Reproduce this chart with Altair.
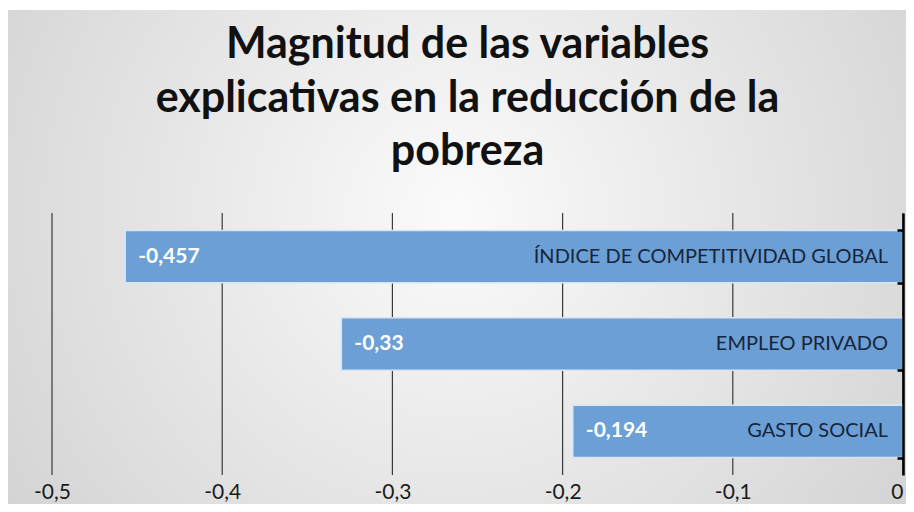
import altair as alt
import pandas as pd

categories = ["ÍNDICE DE COMPETITIVIDAD GLOBAL", "EMPLEO PRIVADO", "GASTO SOCIAL"]
values = [-0.457, -0.33, -0.194]
value_labels = ["-0,457", "-0,33", "-0,194"]
x_ticks = [-0.5, -0.4, -0.3, -0.2, -0.1, 0]
title_lines = ["Magnitud de las variables", "explicativas en la reducción de la", "pobreza"]

W, H = 851, 262
PL, PT, PR, PB = 44, 205, 3, 29

df = pd.DataFrame({"cat": categories, "val": values, "lab": value_labels, "zero": [0.0] * 3})
grid_df = pd.DataFrame({"t": x_ticks})
bg_df = pd.DataFrame({"a": [0]})

xscale = alt.Scale(domain=[-0.5, 0], nice=False, zero=False)
yscale = alt.Scale(paddingInner=0.4, paddingOuter=0.2)

label_expr = "datum.value == 0 ? '0' : '-0,' + round(abs(datum.value) * 10)"
xaxis = alt.Axis(values=x_ticks, labelExpr=label_expr, grid=False, domain=False, ticks=False,
                 labelFontSize=21, labelColor="#1a1a1a", labelPadding=6, labelBaseline="top",
                 labelFont="Lato", labelFlush=False, labelOverlap=False, title=None, zindex=1,
                 labelAlign={"condition": {"test": "datum.value == 0", "value": "right"}, "value": "center"})

bg = alt.Chart(bg_df).mark_rect(
    color=alt.Gradient(
        gradient="radial",
        stops=[alt.GradientStop(color="#fbfbfb", offset=0), alt.GradientStop(color="#cacaca", offset=1)],
        x1=0.5, y1=0.45, r1=0, x2=0.5, y2=0.45, r2=0.75,
    )
).encode(
    x=alt.value(-PL), x2=alt.value(W + PR), y=alt.value(-PT + 2), y2=alt.value(H + PB)
)

grid = alt.Chart(grid_df).mark_rule(color="#3a3a3a", strokeWidth=1.2).encode(
    x=alt.X("t:Q", scale=xscale, axis=xaxis),
    y=alt.value(0), y2=alt.value(H),
)

bars = alt.Chart(df).mark_bar(color="#6b9fd5", stroke="#d6e6f6", strokeWidth=1.5).encode(
    x=alt.X("val:Q", scale=xscale, axis=xaxis),
    x2=alt.X2("zero"),
    y=alt.Y("cat:N", sort=categories, scale=yscale,
            axis=alt.Axis(orient="left", offset=-W, labels=False, title=None, grid=False,
                          domainColor="black", domainWidth=2.5, tickColor="black", tickWidth=2.5,
                          tickSize=6, tickBand="extent", zindex=1)),
)

vals = alt.Chart(df).mark_text(align="left", baseline="middle", dx=13, color="white",
                               fontWeight="bold", fontSize=21, font="Lato").encode(
    x=alt.X("val:Q", scale=xscale, axis=xaxis), y=alt.Y("cat:N", sort=categories), text="lab:N"
)

cats = alt.Chart(df).mark_text(align="right", baseline="middle", dx=-15, color="#17253a",
                               fontSize=20, font="Lato").encode(
    x=alt.X("zero:Q", scale=xscale, axis=xaxis), y=alt.Y("cat:N", sort=categories), text="cat:N"
)

chart = alt.layer(bg, grid, bars, vals, cats).properties(
    width=W, height=H,
    title=alt.TitleParams(title_lines, anchor="middle", fontSize=43, font="Lato",
                          fontWeight="bold", color="#111111", lineHeight=53.5, offset=-207,
                          baseline="bottom", dx=-10, zindex=1),
    autosize=alt.AutoSizeParams(type="none"),
    padding={"left": PL, "top": PT, "right": PR, "bottom": PB},
).configure(background="white").configure_view(stroke=None)

chart.save("out.html", embed_options={"renderer": "svg", "actions": False})
